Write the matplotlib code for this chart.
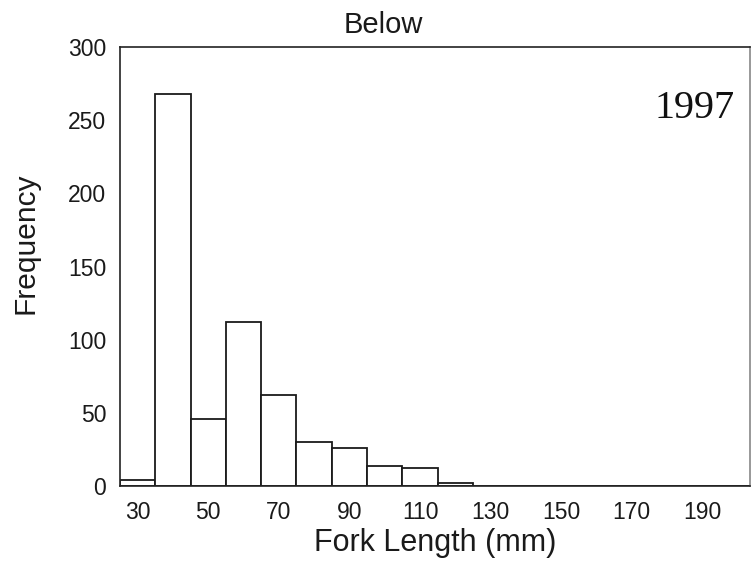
import numpy as np
import matplotlib
matplotlib.use("Agg")
import matplotlib.pyplot as plt

# Fork length histogram, 10 mm bins centred on 30, 40, ... 200
bin_centres = np.arange(30, 210, 10)
counts = [4, 268, 46, 112, 62, 30, 26, 14, 12, 2, 0, 0, 0, 0, 0, 0, 0, 0]
xticks = [30, 50, 70, 90, 110, 130, 150, 170, 190]
yticks = [0, 50, 100, 150, 200, 250, 300]

plt.rcParams["font.family"] = ["Liberation Sans", "DejaVu Sans"]

fig = plt.figure(figsize=(7.51, 5.65), dpi=100)
ax = fig.add_axes([120 / 751, 1 - 486 / 565, 630 / 751, 439 / 565])

ax.bar(bin_centres, counts, width=10, facecolor="white", edgecolor="#1a1a1a",
       linewidth=1.3, align="center")

ax.set_xlim(25, 203.5)
ax.set_ylim(0, 300)
ax.set_xticks(xticks)
ax.set_yticks(yticks)
ax.tick_params(length=0, labelsize=16.5, colors="#1a1a1a")
ax.tick_params(axis="x", pad=11)
ax.tick_params(axis="y", pad=10)

for s in ax.spines.values():
    s.set_linewidth(1.2)
    s.set_color("#222222")
ax.spines["right"].set_color("#888888")

ax.set_xlabel("Fork Length (mm)", fontsize=22, labelpad=3, color="#1a1a1a")
ax.set_ylabel("Frequency", fontsize=21.5, color="#1a1a1a")
ax.yaxis.set_label_coords(-0.127, 0.553)
fig.text(383 / 751, 1 - 33 / 565, "Below", fontsize=21, ha="center",
         va="baseline", color="#1a1a1a")

ax.text(0.976, 0.838, "1997", transform=ax.transAxes, ha="right",
        va="baseline", fontsize=29, family=["Liberation Serif"], color="#111111")

fig.savefig("out.png", dpi=100)
